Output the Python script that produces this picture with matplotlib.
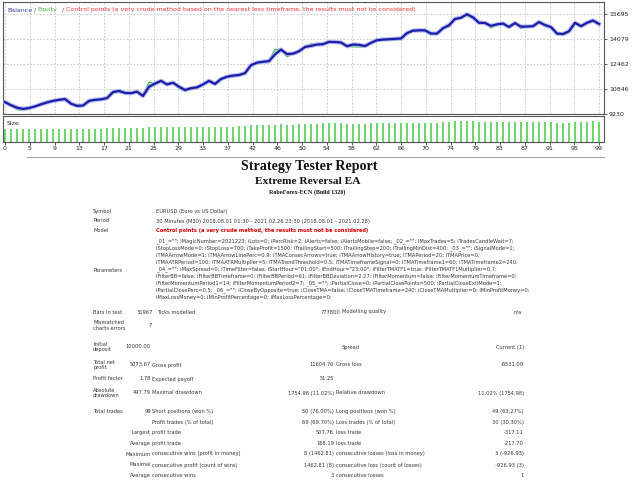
import matplotlib
matplotlib.use("Agg")
import matplotlib.pyplot as plt
import numpy as np

W, H = 640, 480

# balance after each trade (trade 0..99)
BALANCE = [
    10000, 9800, 9640, 9560, 9620, 9720, 9860, 9980, 10080, 10150,
    10200, 9900, 9760, 9780, 10080, 10150, 10180, 10260, 10650, 10720,
    10600, 10580, 10680, 10400, 11000, 11200, 11380, 11150, 11260, 11000,
    10790, 10900, 10960, 11150, 11380, 11180, 11500, 11650, 11720, 11760,
    11880, 12400, 12560, 12620, 12660, 13100, 13410, 13120, 13150, 13300,
    13580, 13650, 13740, 13760, 13910, 13900, 13870, 13630, 13740, 13720,
    13640, 13850, 14020, 14060, 14080, 14110, 14130, 14480, 14640, 14660,
    14660, 14450, 14450, 14800, 14990, 15400, 15480, 15700, 15500, 15150,
    15140, 14950, 15050, 15100, 14880, 15130, 14900, 14910, 14930, 15200,
    15000, 14870, 14450, 14420, 14600, 15150, 14930, 15150, 15300, 15074,
]

# equity values where they differ visibly from the balance
EQUITY_DIFF = {
    2: 9520, 3: 9500, 18: 10720, 19: 10780, 24: 11300, 29: 10900, 30: 10720,
    45: 13420, 47: 12950, 51: 13780, 52: 13800, 58: 13600, 59: 13590, 60: 13600,
    65: 14020, 74: 14900, 81: 14820, 86: 14780, 93: 14380,
}

# lot size per trade
SIZE = [
    0.20, 0.20, 0.19, 0.19, 0.19, 0.19, 0.20, 0.20, 0.20, 0.20,
    0.20, 0.20, 0.20, 0.20, 0.20, 0.20, 0.20, 0.21, 0.21, 0.21,
    0.21, 0.21, 0.21, 0.21, 0.22, 0.22, 0.23, 0.22, 0.23, 0.22,
    0.22, 0.22, 0.22, 0.22, 0.23, 0.22, 0.23, 0.23, 0.23, 0.24,
    0.24, 0.25, 0.25, 0.25, 0.25, 0.26, 0.27, 0.26, 0.26, 0.27,
    0.27, 0.27, 0.27, 0.28, 0.28, 0.28, 0.28, 0.27, 0.27, 0.27,
    0.27, 0.28, 0.28, 0.28, 0.28, 0.28, 0.28, 0.29, 0.29, 0.29,
    0.29, 0.29, 0.29, 0.30, 0.30, 0.31, 0.31, 0.31, 0.31, 0.30,
    0.30, 0.30, 0.30, 0.30, 0.30, 0.30, 0.30, 0.30, 0.30, 0.30,
    0.30, 0.30, 0.29, 0.29, 0.29, 0.30, 0.30, 0.30, 0.31, 0.30,
]

X_LABELS = ["0", "5", "9", "13", "17", "21", "25", "29", "33", "37", "42", "46", "50",
            "54", "58", "62", "66", "70", "74", "79", "83", "87", "91", "95", "99"]
Y_TICKS = [9230, 10846, 12462, 14079, 15695]

PARAMS = [
    '_01_=""; iMagicNumber=2021223; iLots=0; iPercRisk=2; iAlerts=false; iAlertsMobile=false; _02_=""; iMaxTrades=5; iTradesCandleWait=7;',
    'iStopLossMode=0; iStopLoss=700; iTakeProfit=1500; iTrailingStart=500; iTrailingStep=200; iTrailingMinDist=400; _03_=""; iSignalMode=1;',
    'iTMAArrowMode=1; iTMAArrowLinePerc=0.9; iTMAConsecArrows=true; iTMAArrowHistory=true; iTMAPeriod=20; iTMAPrice=0;',
    'iTMAATRPeriod=100; iTMAATRMultiplier=5; iTMATrendThreshold=0.5; iTMATimeframeSignal=0; iTMATimeframe1=60; iTMATimeframe2=240;',
    '_04_=""; iMaxSpread=0; iTimeFilter=false; iStartHour="01:00"; iEndHour="23:00"; iFilterTMATF1=true; iFilterTMATF1Multiplier=0.7;',
    'iFilterBB=false; iFilterBBTimeframe=0; iFilterBBPeriod=61; iFilterBBDeviation=2.27; iFilterMomentum=false; iFilterMomentumTimeframe=0;',
    'iFilterMomentumPeriod1=14; iFilterMomentumPeriod2=7; _05_=""; iPartialClose=0; iPartialClosePoints=500; iPartialCloseExitMode=1;',
    'iPartialClosePerc=0.5; _06_=""; iCloseByOpposite=true; iCloseTMA=false; iCloseTMATimeframe=240; iCloseTMAMultiplier=0; iMinProfitMoney=0;',
    'iMaxLossMoney=0; iMinProfitPercentage=0; iMaxLossPercentage=0;',
]

# rows of the results table: label, value, label, value, label, value
SUMMARY = [
    ("Total net\nprofit", "5073.67", "Gross profit", "11604.76", "Gross loss", "-6531.09"),
    ("Profit factor", "1.78", "Expected payoff", "51.25", "", ""),
    ("Absolute\ndrawdown", "497.79", "Maximal drawdown", "1754.98 (11.02%)",
     "Relative drawdown", "11.02% (1754.98)"),
]
TRADES = [
    ("Total trades", "99", "Short positions (won %)", "50 (76.00%)", "Long positions (won %)", "49 (63.27%)"),
    ("", "", "Profit trades (% of total)", "69 (69.70%)", "Loss trades (% of total)", "30 (30.30%)"),
    ("", "Largest", "profit trade", "507.76", "loss trade", "-317.11"),
    ("", "Average", "profit trade", "168.19", "loss trade", "-217.70"),
    ("", "Maximum", "consecutive wins (profit in money)", "8 (1462.81)",
     "consecutive losses (loss in money)", "3 (-926.93)"),
    ("", "Maximal", "consecutive profit (count of wins)", "1462.81 (8)",
     "consecutive loss (count of losses)", "-926.93 (3)"),
    ("", "Average", "consecutive wins", "3", "consecutive losses", "1"),
]


def fx(x):
    return x / W


def fy(y):
    return 1 - y / H


FS = 3.7
TXT = "#353535"


def put(x, y, s, ha="left", size=FS, color=TXT, **kw):
    fig.text(fx(x), fy(y), s, ha=ha, va="center", fontsize=size, color=color,
             linespacing=1.1, **kw)


fig = plt.figure(figsize=(6.4, 4.8), dpi=100)
fig.patch.set_facecolor("white")

x = np.arange(len(BALANCE))
equity = list(BALANCE)
for i, v in EQUITY_DIFF.items():
    equity[i] = v

ax = fig.add_axes([fx(3), fy(114), fx(604) - fx(3), fy(2) - fy(114)])
ax.set_xlim(-1 / 3, 99 + 5 / 6)
ax.set_ylim(9230, 16500)
ax.plot(x, equity, color="#4cc84c", lw=1.1, zorder=3)
ax.plot(x, BALANCE, color="#aab0f0", lw=3.2, alpha=0.8, zorder=4, solid_joinstyle="round")
ax.plot(x, BALANCE, color="#1c1ca8", lw=1.6, zorder=5, solid_joinstyle="round")

tick_pos = np.linspace(0, 99, len(X_LABELS))
ax.set_xticks(tick_pos)
ax.set_xticklabels([])
ax.tick_params(axis="x", length=0)
ax.yaxis.tick_right()
ax.set_yticks(Y_TICKS)
ax.set_yticklabels([str(v) for v in Y_TICKS], fontsize=4.5, color="#222222")
ax.tick_params(axis="y", length=2, width=0.6, pad=1.5, color="#444444")
ax.grid(True, color="#c4c4c4", lw=0.6, linestyle=(0, (2, 2)))
for s in ax.spines.values():
    s.set_color("#555555")
    s.set_linewidth(0.8)

axs = fig.add_axes([fx(3), fy(142), fx(604) - fx(3), fy(116) - fy(142)])
axs.set_xlim(-1 / 3, 99 + 5 / 6)
axs.set_ylim(0, 0.39)
axs.vlines(x, 0, SIZE, colors="#22c022", lw=1.25, alpha=0.75)
axs.set_yticks([])
axs.set_xticks(tick_pos)
axs.set_xticklabels(X_LABELS, fontsize=4.5, color="#222222")
axs.tick_params(axis="x", length=2, width=0.6, pad=1.2, color="#444444")
for s in axs.spines.values():
    s.set_color("#555555")
    s.set_linewidth(0.8)
axs.text(4 / 601, 0.73, "Size", transform=axs.transAxes, fontsize=4.5,
         color="#333333", va="center")

# chart legend line
put(7, 10, "Balance", size=4.5, color="#3535b0")
put(34, 10, "/", size=4.5, color="#555555")
put(37.5, 10, "Equity", size=4.5, color="#3cb83c")
put(62, 10, "/", size=4.5, color="#555555")
put(66.5, 10, "Control points (a very crude method based on the nearest less timeframe, "
    "the results must not be considered)", size=4.5, color="#ff3030")

# separator and headings
fig.add_artist(plt.Line2D([fx(27), fx(604)], [fy(156.7), fy(156.7)],
                          color="#a8a8a8", lw=0.8))
put(309, 166.5, "Strategy Tester Report", ha="center", size=10.1,
    color="#111111", family="Liberation Serif", weight="bold")
put(307.5, 181.5, "Extreme Reversal EA", ha="center", size=8.2,
    color="#111111", family="Liberation Serif", weight="bold")
put(307.5, 192.5, "RoboForex-ECN (Build 1320)", ha="center", size=4.3,
    color="#111111", family="Liberation Serif", weight="bold")

# header rows
put(93, 211, "Symbol")
put(156, 211, "EURUSD (Euro vs US Dollar)")
put(93, 221, "Period")
put(156, 221, "30 Minutes (M30) 2018.08.01 01:30 - 2021.02.26 23:30 (2018.08.01 - 2021.02.28)")
put(93, 231, "Model")
put(156, 231, "Control points (a very crude method, the results must not be considered)",
    color="#dd0000", weight="bold")
put(93, 270, "Parameters")
for i, line in enumerate(PARAMS):
    put(156, 241.5 + i * 7.0, line)

put(93, 312, "Bars in test")
put(153, 312, "31967", ha="right")
put(157, 312, "Ticks modelled")
put(340, 312, "777800", ha="right")
put(342, 312, "Modelling quality")
put(522, 312, "n/a", ha="right")
put(93, 325.5, "Mismatched\ncharts errors")
put(152, 325.5, "7", ha="right")

put(93, 347, "Initial\ndeposit")
put(151, 347, "10000.00", ha="right")
put(342, 347, "Spread")
put(524, 347, "Current (1)", ha="right")

for (l1, v1, l2, v2, l3, v3), y in zip(SUMMARY, [365, 379, 393]):
    put(93, y, l1)
    put(151, y, v1, ha="right")
    put(152.5, y, l2)
    put(334, y, v2, ha="right")
    put(335.5, y, l3)
    put(524, y, v3, ha="right")

for (l1, v1, l2, v2, l3, v3), y in zip(TRADES, [411.7, 422.3, 432.7, 443.3, 454, 465, 475.3]):
    put(93, y, l1)
    put(151, y, v1, ha="right")
    put(152.5, y, l2)
    put(334, y, v2, ha="right")
    put(335.5, y, l3)
    put(524, y, v3, ha="right")

fig.savefig("out.png", dpi=100, facecolor="white")
